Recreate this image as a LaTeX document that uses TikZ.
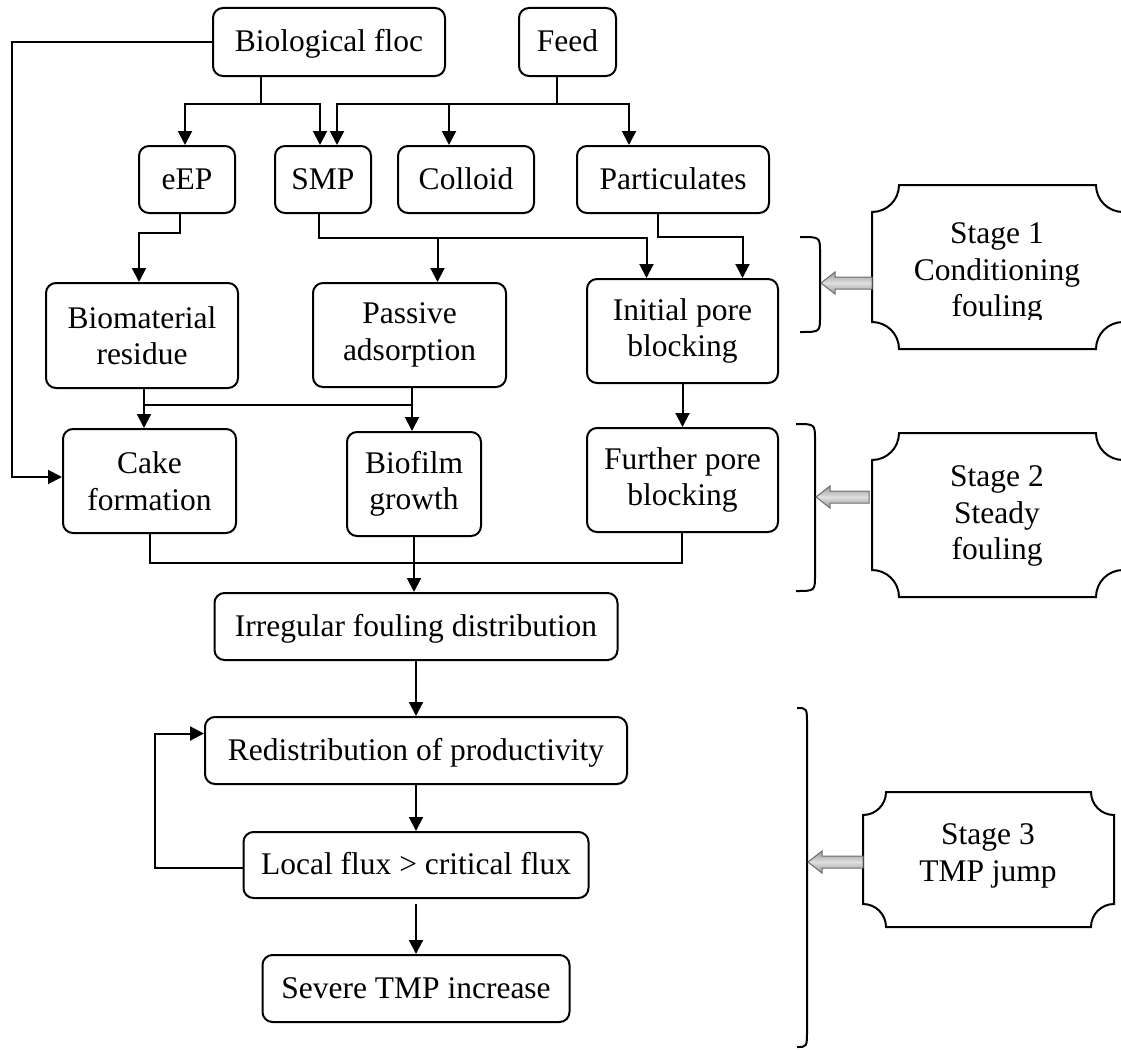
\documentclass[tikz,border=0pt]{standalone}
\usepackage{fontspec}
\setmainfont{Liberation Serif}
\usetikzlibrary{arrows.meta,calc}
\newcommand\plaque[5]{% L T R B r
  \draw[stageline] ({#1+#5},#2) -- ({#3-#5},#2)
    .. controls ({#3-#5},{#2+0.5523*#5}) and ({#3-0.5523*#5},{#2+#5}) .. (#3,{#2+#5})
    -- (#3,{#4-#5})
    .. controls ({#3-0.5523*#5},{#4-#5}) and ({#3-#5},{#4-0.5523*#5}) .. ({#3-#5},#4)
    -- ({#1+#5},#4)
    .. controls ({#1+#5},{#4-0.5523*#5}) and ({#1+0.5523*#5},{#4-#5}) .. (#1,{#4-#5})
    -- (#1,{#2+#5})
    .. controls ({#1+0.5523*#5},{#2+#5}) and ({#1+#5},{#2+0.5523*#5}) .. cycle;}
\begin{document}
\begin{tikzpicture}[x=1pt,y=-1pt,
  every node/.style={font=\fontsize{31.5}{36.5}\selectfont},
  box/.style={draw,line width=2pt,rounded corners=10pt,inner sep=0pt,align=center},
  one/.style={text height=22pt,text depth=3pt},
  arr/.style={line width=2pt,-{Triangle[length=14pt,width=14pt]}},
  ln/.style={line width=2pt},
  stageline/.style={line width=2pt},
  stagetext/.style={align=center,inner sep=0pt},
  garrow/.style={draw=gray!85!black,line width=1pt,top color=gray!80,bottom color=gray!80,middle color=gray!25},
  brc/.style={line width=2pt}]
\useasboundingbox (0,0) rectangle (1121,1049);
\fill[white] (0,0) rectangle (1121,1049);

% boxes
\node[box,one,minimum width=232pt,minimum height=68pt] (floc) at (329,42) {Biological floc};
\node[box,one,minimum width=97pt,minimum height=68pt] (feed) at (567.5,42) {Feed};
\node[box,one,minimum width=96pt,minimum height=67pt] (eEP) at (187,179.5) {eEP};
\node[box,one,minimum width=96pt,minimum height=67pt] (SMP) at (323,179.5) {SMP};
\node[box,one,minimum width=136pt,minimum height=67pt] (colloid) at (466,179.5) {Colloid};
\node[box,one,minimum width=192pt,minimum height=67pt] (part) at (673,179.5) {Particulates};
\node[box,minimum width=192pt,minimum height=105pt] (bio) at (142,335.5) {Biomaterial\\residue};
\node[box,minimum width=193pt,minimum height=104pt] (passive) at (409.5,335) {Passive\\adsorption};
\node[box,minimum width=191pt,minimum height=104pt] (init) at (682.5,331) {Initial pore\\blocking};
\node[box,minimum width=173pt,minimum height=104pt] (cake) at (149.5,481) {Cake\\formation};
\node[box,minimum width=134pt,minimum height=104pt] (biofilm) at (414,484) {Biofilm\\growth};
\node[box,minimum width=191pt,minimum height=104pt] (further) at (682.5,480) {Further pore\\blocking};
\node[box,one,minimum width=403pt,minimum height=67pt] (irr) at (416,626.5) {Irregular fouling distribution};
\node[box,one,minimum width=422pt,minimum height=67pt] (redis) at (416,750.5) {Redistribution of productivity};
\node[box,one,minimum width=345pt,minimum height=66pt] (local) at (416,865) {Local flux > critical flux};
\node[box,one,minimum width=307pt,minimum height=67pt] (severe) at (416,988.5) {Severe TMP increase};

% top distribution
\coordinate (f1) at (12,42);
\draw[arr] (floc.west) -- (f1) |- ($(cake.west)+(0,-4)$);
\coordinate (j1) at (261,104);
\draw[ln] (floc.south -| j1) -- (j1);
\draw[arr] (j1) -| ($(eEP.north)+(-2,0)$);
\draw[arr] (j1) -| ($(SMP.north)+(-3,0)$);
\coordinate (j2) at (557,104);
\draw[ln] (feed.south -| j2) -- (j2);
\draw[arr] (j2) -| ($(SMP.north)+(14,0)$);
\draw[arr] (j2) -| ($(colloid.north)+(-17,0)$);
\draw[arr] (j2) -| ($(part.north)+(-44,0)$);

% second level
\coordinate (e1) at (180,233);
\draw[arr] (eEP.south -| e1) -- (e1) -| ($(bio.north)+(-3,0)$);
\coordinate (s1) at (319,238);
\draw[arr] (SMP.south -| s1) -- (s1) -| ($(init.north)+(-36,0)$);
\draw[arr] (s1) -| ($(passive.north)+(28,0)$);
\coordinate (p1) at (658,237);
\draw[arr] (part.south -| p1) -- (p1) -| ($(init.north)+(60,0)$);

% third level
\coordinate (b1) at (144,405);
\coordinate (b2) at (412,405);
\draw[arr] (bio.south -| b1) -- (b1 |- cake.north);
\draw[arr] (passive.south -| b2) -- (b2 |- biofilm.north);
\draw[ln] (b1) -- (b2);
\draw[arr] (init.south) -- (further.north);

% merge
\coordinate (c1) at (150,563);
\coordinate (c2) at (682,563);
\draw[ln] (cake.south -| c1) -- (c1) -- (c2) -- (further.south -| c2);
\draw[arr] (biofilm.south) -- (biofilm.south |- irr.north);

% lower chain
\draw[arr] (irr.south) -- (irr.south |- redis.north);
\draw[arr] (redis.south) -- (redis.south |- local.north);
\draw[arr] ($(local.south)+(0,5)$) -- (local.south |- severe.north);
\coordinate (l1) at (155,868);
\draw[arr] (local.west |- l1) -- (l1) |- ($(redis.west)+(0,-17)$);

% stage boxes
\plaque{872}{185}{1123}{349}{27}
\plaque{872}{433}{1123}{597}{27}
\plaque{863}{792}{1114}{927}{23}
\begin{scope}
  \clip (872,185) rectangle (1123,319);
  \node[stagetext] (st1) at (997,273) {Stage 1\\Conditioning\\fouling};
\end{scope}
\node[stagetext] (st2) at (997,516) {Stage 2\\Steady\\fouling};
\node[stagetext] (st3) at (988,856) {Stage 3\\TMP jump};

% braces
\draw[brc] (800,237) .. controls (820,237) .. (820,252) -- (820,317) .. controls (820,332) .. (800,332);
\draw[brc] (796,424) .. controls (815,424) .. (815,440) -- (815,575) .. controls (815,591) .. (796,591);
\draw[brc] (797,708) .. controls (807,708) .. (807,725) -- (807,1030) .. controls (807,1047) .. (797,1047);

% gray block arrows
\draw[garrow] (821,283) -- (835,272) -- (835,277) -- (872,277) -- (872,289) -- (835,289) -- (835,294) -- cycle;
\draw[garrow] (816,497) -- (830,486) -- (830,491) -- (869,491) -- (869,503) -- (830,503) -- (830,508) -- cycle;
\draw[garrow] (808,862) -- (822,851) -- (822,856) -- (863,856) -- (863,868) -- (822,868) -- (822,873) -- cycle;
\end{tikzpicture}
\end{document}
